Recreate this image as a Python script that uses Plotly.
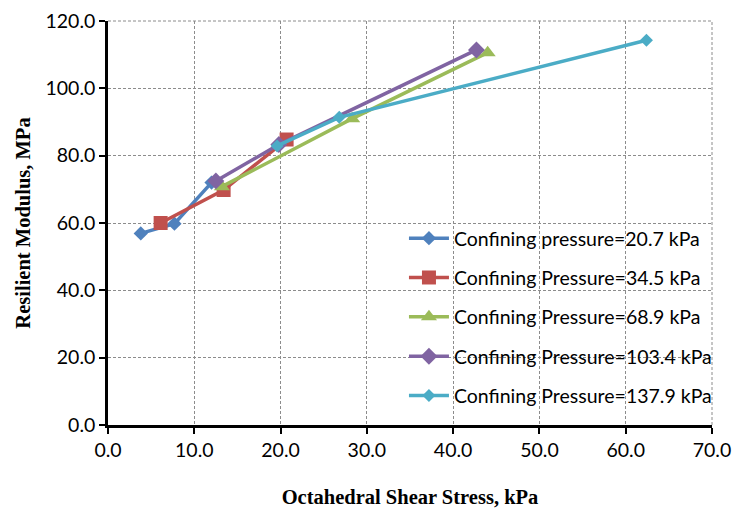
import plotly.graph_objects as go

names = ["Confining pressure=20.7 kPa", "Confining Pressure=34.5 kPa",
         "Confining Pressure=68.9 kPa", "Confining Pressure=103.4 kPa",
         "Confining Pressure=137.9 kPa"]
x_207 = [3.8, 7.7, 12.0]
y_207 = [56.9, 59.8, 72.0]
x_345 = [6.1, 13.4, 20.7]
y_345 = [60.0, 69.8, 84.8]
x_689 = [13.2, 28.3, 44.0]
y_689 = [70.8, 91.0, 110.6]
x_1034 = [12.5, 19.8, 42.7]
y_1034 = [72.5, 83.3, 111.4]
x_1379 = [19.6, 26.8, 62.4]
y_1379 = [82.9, 91.4, 114.3]

colors = ["#4F81BD", "#C0504D", "#9BBB59", "#8064A2", "#4BACC6"]
symbols = ["diamond", "square", "triangle-up", "diamond", "diamond"]
sizes = [11, 14, 14, 13, 10]

xs = [x_207, x_345, x_689, x_1034, x_1379]
ys = [y_207, y_345, y_689, y_1034, y_1379]

fig = go.Figure()
for i in range(5):
    fig.add_trace(go.Scatter(
        x=xs[i], y=ys[i], name=names[i], mode="lines+markers",
        legendgroup=str(i),
        line=dict(color=colors[i], width=3.5),
        marker=dict(symbol=symbols[i], size=sizes[i], color=colors[i]),
    ))

grid = "#8c8c8c"
gdash = "3px,2px"
tickfont = dict(family="Lato", size=19.5, color="#000000")
fig.update_layout(
    width=740, height=514,
    margin=dict(l=108, r=28, t=21, b=89),
    paper_bgcolor="white", plot_bgcolor="white",
    showlegend=True,
    legend=dict(x=0.49, y=0.51, xanchor="left", yanchor="top",
                bgcolor="rgba(0,0,0,0)", font=dict(family="Lato", size=19.5, color="#000"),
                tracegroupgap=11, traceorder="grouped", itemwidth=40),
    xaxis=dict(range=[0, 70], dtick=10, tickformat=".1f", automargin=False,
               showgrid=True, gridcolor=grid, griddash=gdash, gridwidth=1,
               showline=True, linecolor="black", linewidth=2.5,
               ticks="outside", ticklen=6, tickwidth=2, tickcolor="black",
               tickfont=tickfont, zeroline=False,
               title=dict(text="<b>Octahedral Shear Stress, kPa</b>",
                          font=dict(family="Liberation Serif", size=20.5, color="#000"),
                          standoff=30)),
    yaxis=dict(range=[0, 120], dtick=20, tickformat=".1f", automargin=False,
               showgrid=True, gridcolor=grid, griddash=gdash, gridwidth=1,
               showline=True, linecolor="black", linewidth=2.5,
               ticks="outside", ticklen=6, tickwidth=2, tickcolor="black",
               tickfont=tickfont, zeroline=False,
               title=dict(text="<b>Resilient Modulus, MPa</b>",
                          font=dict(family="Liberation Serif", size=20.5, color="#000"),
                          standoff=10)),
    shapes=[
        dict(type="line", xref="paper", yref="paper", x0=0, x1=1, y0=1, y1=1,
             line=dict(color=grid, width=1, dash=gdash), layer="below"),
        dict(type="line", xref="paper", yref="paper", x0=1, x1=1, y0=0, y1=1,
             line=dict(color=grid, width=1, dash=gdash), layer="below"),
    ],
)
fig.write_html("out.html")
